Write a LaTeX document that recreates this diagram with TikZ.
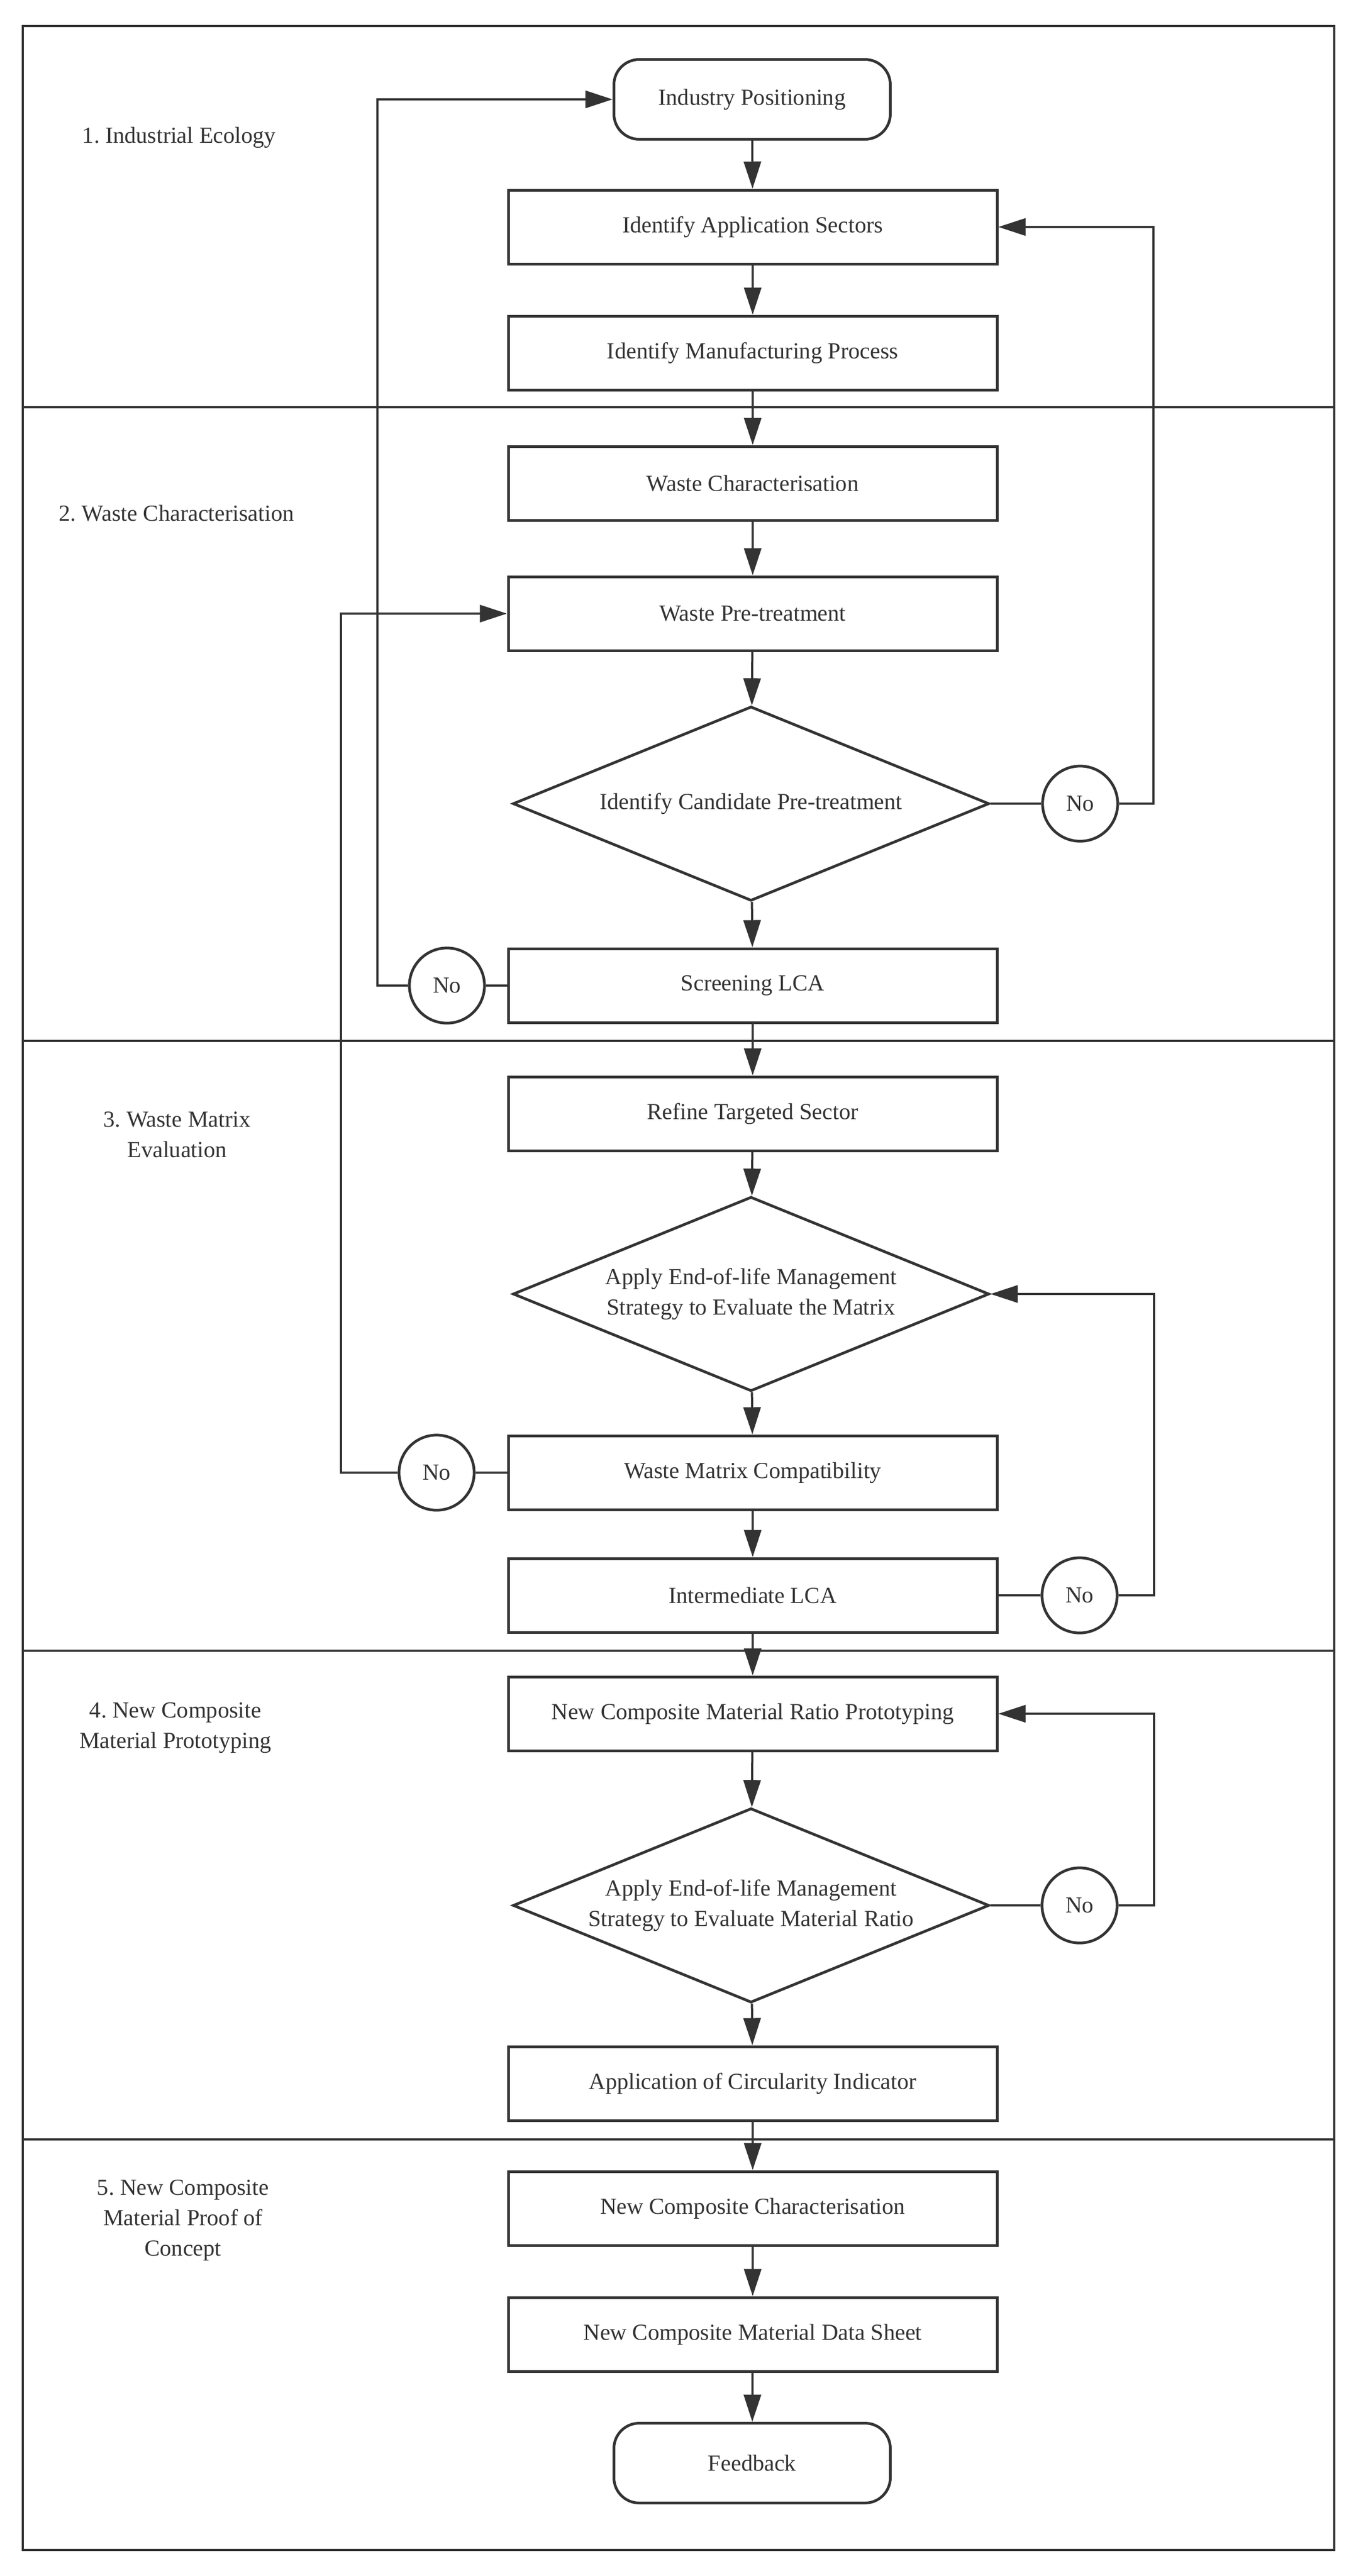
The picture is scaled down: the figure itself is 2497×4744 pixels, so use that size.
\documentclass[tikz,border=0pt]{standalone}
\usepackage{fontspec}
\setmainfont{Liberation Serif}
\frenchspacing
\usetikzlibrary{shapes.geometric,arrows.meta}
\definecolor{ink}{HTML}{333333}
\tikzset{
  every node/.style={text=ink, font=\fontsize{12.7}{16.8}\selectfont},
  stepbox/.style={draw=ink, line width=1.5pt, rectangle, minimum width=270pt, minimum height=40.8pt, inner sep=0pt, align=center, fill=white},
  termbox/.style={draw=ink, line width=1.5pt, rectangle, rounded corners=14pt, minimum width=152.7pt, minimum height=44.1pt, inner sep=0pt, align=center, fill=white},
  decbox/.style={draw=ink, line width=1.5pt, diamond, aspect=2.44, minimum width=263.1pt, minimum height=107.4pt, inner sep=0pt, align=center, fill=white},
  nobox/.style={draw=ink, line width=1.5pt, circle, minimum size=41.5pt, inner sep=0pt, fill=white},
  lbl/.style={align=center},
  conn/.style={draw=ink, line width=1.2pt},
  arr/.style={conn, -{Triangle[length=15pt, width=9.5pt]}},
  frame/.style={draw=ink, line width=1.2pt}
}
\begin{document}
\begin{tikzpicture}[x=0.3pt, y=-0.3pt]
\useasboundingbox (0,0) rectangle (2497,4744);
% frame and dividers
\draw[frame] (42,48) rectangle (2457,4696);
\draw[frame] (42,750) -- (2457,750);
\draw[frame] (42,1917) -- (2457,1917);
\draw[frame] (42,3040) -- (2457,3040);
\draw[frame] (42,3940) -- (2457,3940);
% section labels
\node[lbl] (L1) at (330,253) {1. Industrial Ecology};
\node[lbl] (L2) at (325,945) {2. Waste Characterisation};
\node[lbl] (L3) at (326,2090) {3. Waste Matrix\\Evaluation};
\node[lbl] (L4) at (323,3182) {4. New Composite\\Material Prototyping};
\node[lbl] (L5) at (337,4089) {5. New Composite\\Material Proof of\\Concept};
% nodes
\node[termbox] (IP) at (1385,183) {Industry Positioning};
\node[stepbox] (IAS) at (1386,418) {Identify Application Sectors};
\node[stepbox] (IMP) at (1386,650) {Identify Manufacturing Process};
\node[stepbox] (WC) at (1386,890) {Waste Characterisation};
\node[stepbox] (WPT) at (1386,1130) {Waste Pre-treatment};
\node[decbox] (D1) at (1383,1480) {Identify Candidate Pre-treatment};
\node[stepbox] (SLCA) at (1386,1815) {Screening LCA};
\node[stepbox] (RTS) at (1386,2051) {Refine Targeted Sector};
\node[decbox] (D2) at (1383,2383) {Apply End-of-life Management\\Strategy to Evaluate the Matrix};
\node[stepbox] (WMC) at (1386,2712) {Waste Matrix Compatibility};
\node[stepbox] (ILCA) at (1386,2938) {Intermediate LCA};
\node[stepbox] (NCMRP) at (1386,3156) {New Composite Material Ratio Prototyping};
\node[decbox] (D3) at (1383,3509) {Apply End-of-life Management\\Strategy to Evaluate Material Ratio};
\node[stepbox] (ACI) at (1386,3837) {Application of Circularity Indicator};
\node[stepbox] (NCC) at (1386,4067) {New Composite Characterisation};
\node[stepbox] (NCMDS) at (1386,4299) {New Composite Material Data Sheet};
\node[termbox] (FB) at (1385,4536) {Feedback};
% No circles
\node[nobox] (N1) at (1989,1480) {No};
\node[nobox] (N2) at (823,1815) {No};
\node[nobox] (N3) at (804,2712) {No};
\node[nobox] (N4) at (1988,2938) {No};
\node[nobox] (N5) at (1988,3509) {No};
% bend points
\coordinate (k1) at (2124,418);
\coordinate (k2) at (695,183);
\coordinate (k3) at (628,1130);
\coordinate (k4) at (2125,2383);
\coordinate (k5) at (2125,3156);
% main flow
\draw[arr] (IP) -- (IAS);
\draw[arr] (IAS) -- (IMP);
\draw[arr] (IMP) -- (WC);
\draw[arr] (WC) -- (WPT);
\draw[arr] (WPT) -- (D1);
\draw[arr] (D1) -- (SLCA);
\draw[arr] (SLCA) -- (RTS);
\draw[arr] (RTS) -- (D2);
\draw[arr] (D2) -- (WMC);
\draw[arr] (WMC) -- (ILCA);
\draw[arr] (ILCA) -- (NCMRP);
\draw[arr] (NCMRP) -- (D3);
\draw[arr] (D3) -- (ACI);
\draw[arr] (ACI) -- (NCC);
\draw[arr] (NCC) -- (NCMDS);
\draw[arr] (NCMDS) -- (FB);
% loops
\draw[conn] (D1.east) -- (N1.west);
\draw[arr] (N1.east) -| (k1) -- (IAS.east);
\draw[conn] (SLCA.west) -- (N2.east);
\draw[arr] (N2.west) -| (k2) -- (IP.west);
\draw[conn] (WMC.west) -- (N3.east);
\draw[arr] (N3.west) -| (k3) -- (WPT.west);
\draw[conn] (ILCA.east) -- (N4.west);
\draw[arr] (N4.east) -| (k4) -- (D2.east);
\draw[conn] (D3.east) -- (N5.west);
\draw[arr] (N5.east) -| (k5) -- (NCMRP.east);
\end{tikzpicture}
\end{document}
